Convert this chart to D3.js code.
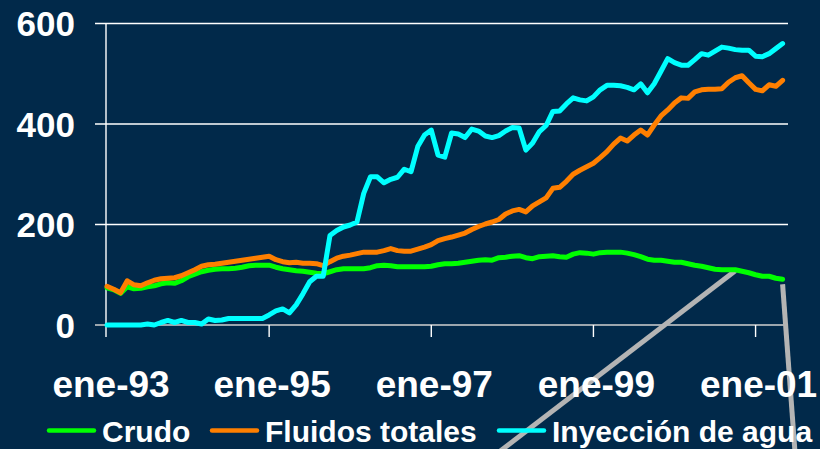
<!DOCTYPE html>
<html>
<head>
<meta charset="utf-8">
<script src="https://cdn.jsdelivr.net/npm/d3@7"></script>
<style>
  html, body { margin: 0; padding: 0; background: #01294a; }
  svg { display: block; font-family: "Liberation Sans", Arial, sans-serif; font-weight: bold; }
</style>
</head>
<body>
<div id="chart"></div>
<script>
// ---------- Data ----------
const tickMonths = [0, 24, 48, 72, 96];
const tickLabels = ['ene-93', 'ene-95', 'ene-97', 'ene-99', 'ene-01'];
const yTicks = [0, 200, 400, 600];

const crudo = [74, 70, 63, 76, 72, 73, 76, 78, 82, 84, 83, 88, 96, 101, 106, 109, 111, 112, 112, 113,
  115, 118, 119, 119, 119, 115, 112, 110, 108, 107, 105, 103, 102, 106, 110, 112, 112, 112, 112, 114,
  118, 119, 118, 116, 116, 116, 116, 116, 117, 120, 122, 122, 123, 125, 127, 129, 130, 129, 134, 135,
  137, 138, 134, 132, 136, 137, 138, 136, 135, 141, 144, 143, 141, 144, 145, 145, 145, 143, 140, 136,
  131, 129, 129, 127, 125, 125, 122, 119, 117, 114, 111, 110, 110, 110, 107, 104, 100, 97, 97, 93, 91];

const fluidos = [77, 71, 64, 88, 80, 78, 84, 89, 92, 93, 94, 98, 104, 110, 117, 120, 121, 123, 125, 127,
  129, 131, 133, 135, 137, 130, 126, 124, 125, 123, 123, 122, 118, 126, 133, 137, 139, 142, 145, 145,
  145, 148, 152, 148, 147, 147, 151, 155, 160, 168, 172, 175, 179, 183, 190, 196, 201, 205, 210, 221,
  227, 230, 225, 237, 245, 253, 272, 274, 286, 300, 308, 315, 322, 333, 345, 360, 372, 366, 378, 388,
  378, 398, 416, 428, 442, 452, 451, 464, 468, 469, 469, 470, 483, 492, 496, 482, 469, 466, 478, 475, 487];

const inyeccion = [0, 0, 0, 0, 0, 0, 2, 0, 5, 9, 5, 9, 5, 5, 2, 12, 9, 10, 13, 13,
  13, 13, 13, 13, 20, 28, 32, 24, 40, 62, 86, 97, 97, 178, 188, 195, 199, 205, 262, 295,
  295, 283, 290, 294, 310, 305, 355, 378, 388, 338, 334, 382, 380, 373, 390, 386, 376, 373, 377, 386,
  393, 392, 348, 362, 385, 397, 425, 426, 440, 452, 448, 446, 454, 468, 477, 477, 476, 473, 468, 480,
  462, 480, 505, 530, 522, 517, 517, 528, 540, 537, 545, 553, 551, 548, 547, 547, 535, 534, 540, 550, 560];

const seriesNames = ['Crudo', 'Fluidos totales', 'Inyección de agua'];
const seriesColors = ['#00ff00', '#ff7f00', '#00ffff'];

// ---------- Setup ----------
const width = 820, height = 449;
const margin = { top: 23.5, right: 32, bottom: 124, left: 107 };

const svg = d3.select('#chart').append('svg')
  .attr('width', width)
  .attr('height', height);

svg.append('rect').attr('width', width).attr('height', height).attr('fill', '#01294a');

const x = d3.scaleLinear()
  .domain([0, 100.8])
  .range([margin.left, width - margin.right]);

const y = d3.scaleLinear()
  .domain([0, 600])
  .range([height - margin.bottom, margin.top]);

// ---------- Grid & axes ----------
svg.append('g')
  .selectAll('line')
  .data(yTicks)
  .join('line')
  .attr('x1', margin.left - 12)
  .attr('x2', x.range()[1])
  .attr('y1', d => y(d))
  .attr('y2', d => y(d))
  .attr('stroke', d => d === 0 ? '#d0d0d0' : '#ffffff')
  .attr('stroke-width', 1.4);

svg.append('line')
  .attr('x1', margin.left - 1).attr('x2', margin.left - 1)
  .attr('y1', y(600)).attr('y2', y(0) + 12)
  .attr('stroke', '#ffffff')
  .attr('stroke-width', 1.4);

svg.append('g')
  .selectAll('line')
  .data(tickMonths.slice(1))
  .join('line')
  .attr('x1', d => x(d)).attr('x2', d => x(d))
  .attr('y1', y(0)).attr('y2', y(0) + 12)
  .attr('stroke', '#ffffff')
  .attr('stroke-width', 1.4);

// ---------- Callout lines (grey), under labels and legend ----------
const calloutStarts = [93, 100];
const calloutEnds = [[499, 452], [795, 452]];
calloutStarts.forEach((m, i) => {
  svg.append('line')
    .attr('x1', x(m)).attr('y1', y(crudo[m]) + (i === 0 ? 1 : 5))
    .attr('x2', calloutEnds[i][0]).attr('y2', calloutEnds[i][1])
    .attr('stroke', '#b4b4b4')
    .attr('stroke-width', 5);
});

svg.append('g')
  .selectAll('text')
  .data(yTicks)
  .join('text')
  .attr('x', 75)
  .attr('y', d => y(d))
  .attr('dy', '0.36em')
  .attr('text-anchor', 'end')
  .attr('fill', '#ffffff')
  .style('font-size', '35px')
  .text(d => d);

svg.append('g')
  .selectAll('text')
  .data(tickMonths)
  .join('text')
  .attr('x', (d, i) => x(d) + (i === 0 ? 4 : 3))
  .attr('y', 397)
  .attr('text-anchor', 'middle')
  .attr('fill', '#ffffff')
  .style('font-size', '37px')
  .text((d, i) => tickLabels[i]);

// ---------- Lines ----------
const line = d3.line()
  .x((d, i) => x(i))
  .y(d => y(d));

[crudo, fluidos, inyeccion].forEach((s, i) => {
  svg.append('path')
    .datum(s)
    .attr('d', line)
    .attr('fill', 'none')
    .attr('stroke', seriesColors[i])
    .attr('stroke-width', 5)
    .attr('stroke-linejoin', 'round')
    .attr('stroke-linecap', 'round');
});

// ---------- Legend ----------
const legendX = [49, 212, 499];
const legend = svg.append('g');
seriesNames.forEach((name, i) => {
  legend.append('line')
    .attr('x1', legendX[i]).attr('x2', legendX[i] + 45)
    .attr('y1', 430.5).attr('y2', 430.5)
    .attr('stroke', seriesColors[i])
    .attr('stroke-width', 4.5)
    .attr('stroke-linecap', 'round');
  legend.append('text')
    .attr('x', legendX[i] + 53)
    .attr('y', 442)
    .attr('fill', '#ffffff')
    .style('font-size', '30px')
    .text(name);
});
</script>
</body>
</html>
